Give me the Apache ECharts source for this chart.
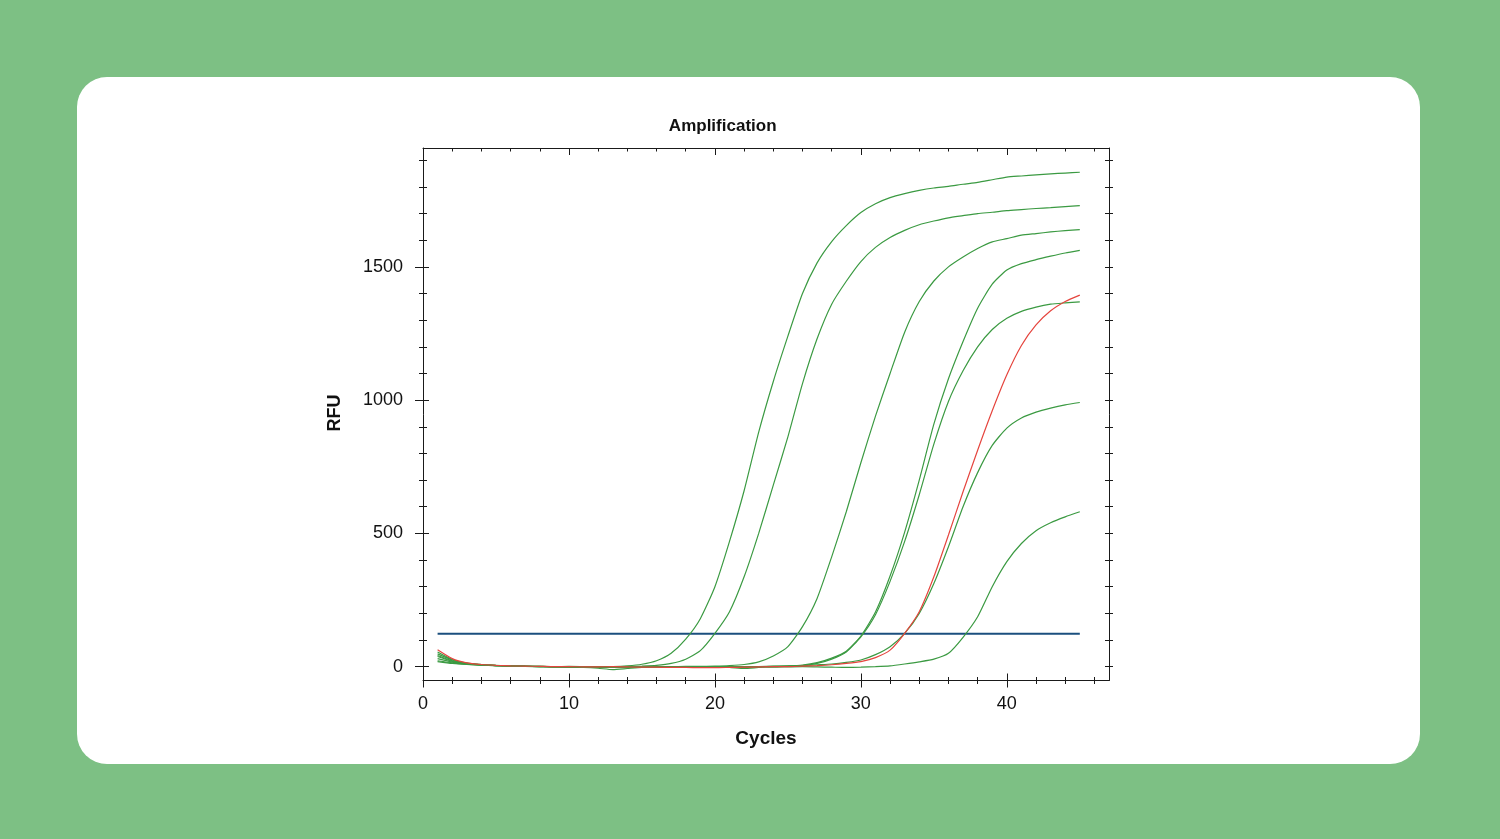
<!DOCTYPE html>
<html>
<head>
<meta charset="utf-8">
<script src="https://cdn.jsdelivr.net/npm/echarts@6/dist/echarts.min.js"></script>
<style>
  html, body { margin:0; padding:0; width:1500px; height:839px; overflow:hidden; background:#7dc084; }
  #card { position:absolute; left:77px; top:77px; width:1343px; height:687px; background:#fff; border-radius:30px; }
  #chart { position:absolute; left:0; top:0; width:1500px; height:839px; }
</style>
</head>
<body>
<div id="card"></div>
<div id="chart"></div>
<script>
// ---- data ----
const cycles = [1,2,3,4,5,6,7,8,9,10,11,12,13,14,15,16,17,18,19,20,21,22,23,24,25,26,27,28,29,30,31,32,33,34,35,36,37,38,39,40,41,42,43,44,45];

const wellA = [48,25,12,7,4,3,1,0,-1,-1,-2,-1,0,3,9,22,50,103,180,300,470,660,880,1070,1240,1400,1515,1595,1655,1704,1737,1760,1775,1787,1796,1802,1810,1817,1827,1837,1841,1845,1849,1852,1855];
const wellB = [30,17,10,6,4,2,2,1,0,-1,-1,-2,-1,0,2,5,12,28,60,125,206,337,500,681,862,1062,1230,1360,1446,1520,1573,1610,1637,1658,1672,1684,1692,1700,1705,1711,1715,1719,1722,1726,1730];
const wellC = [38,20,11,7,4,3,1,0,0,-1,-1,-2,-2,-1,-1,0,0,1,1,2,4,8,18,40,75,150,256,412,581,765,940,1100,1255,1370,1447,1500,1537,1569,1594,1606,1619,1625,1631,1636,1640];
const wellD = [22,14,9,6,4,3,1,0,-1,-1,0,-2,-3,-2,-1,0,-1,-1,0,-1,0,-2,0,2,3,6,15,32,58,115,205,340,505,700,910,1080,1220,1345,1435,1488,1512,1527,1540,1552,1562];
const wellE = [42,22,12,7,5,2,2,1,0,-1,-2,-1,-2,-1,0,-1,0,-2,-1,-2,-3,-7,-3,0,2,4,12,28,55,112,195,320,470,645,835,995,1110,1200,1265,1307,1333,1349,1360,1365,1369];
const wellG = [55,27,13,8,5,3,2,1,0,1,0,-1,-1,0,0,-1,-1,-2,-2,-1,0,-1,0,1,2,4,7,10,16,25,45,75,125,200,312,450,600,728,830,895,933,955,970,982,991];
const wellH = [19,12,8,6,4,2,1,0,-1,-2,-3,-6,-11,-7,-3,-2,-1,-1,0,-1,-1,0,-1,-2,-1,0,-1,-2,-3,-2,0,3,10,18,28,50,110,187,300,394,462,510,540,562,581];
const wellRed = [63,30,14,8,5,3,2,1,0,0,-1,-1,0,-1,-2,-2,-3,-3,-4,-4,-3,-2,-1,0,0,2,4,7,12,19,34,62,125,206,337,494,656,812,960,1095,1205,1282,1335,1370,1394];

const greenWells = [wellA, wellB, wellC, wellD, wellE, wellG, wellH];
const thresholdValue = 123;
const thresholdCycles = [1, 45];

const xTickLabels = [0,10,20,30,40];
const xMinorTicks = [2,4,6,8,12,14,16,18,22,24,26,28,32,34,36,38,42,44,46];
const yTickLabels = [0,500,1000,1500];
const yMinorTicks = [100,200,300,400,600,700,800,900,1100,1200,1300,1400,1600,1700,1800,1900];
const yAllTicks = [0,100,200,300,400,500,600,700,800,900,1000,1100,1200,1300,1400,1500,1600,1700,1800,1900];

// ---- layout / style ----
const X_MIN = 0, X_MAX = 47, Y_MIN = -52, Y_MAX = 1946;
const FONT = '"Liberation Sans", Arial, sans-serif';
const AX = '#1a1a1a';

function xAx(position, showLine, inside, len, ticks, labels) {
  return {
    type:'value', min:X_MIN, max:X_MAX, position: position,
    splitLine:{show:false},
    axisLine:{show:showLine, onZero:false, lineStyle:{color:AX, width:1}},
    axisTick:{show:true, inside:inside, length:len, customValues:ticks, lineStyle:{color:AX, width:1}},
    axisLabel: labels ? {show:true, customValues:labels, formatter:v => String(v), fontSize:18, color:'#111', fontFamily:FONT, margin:15} : {show:false}
  };
}
function yAx(position, showLine, inside, len, ticks, labels) {
  return {
    type:'value', min:Y_MIN, max:Y_MAX, position: position,
    splitLine:{show:false},
    axisLine:{show:showLine, onZero:false, lineStyle:{color:AX, width:1}},
    axisTick:{show:true, inside:inside, length:len, customValues:ticks, lineStyle:{color:AX, width:1}},
    axisLabel: labels ? {show:true, customValues:labels, formatter:v => String(v), fontSize:18, color:'#111', fontFamily:FONT, margin:20} : {show:false}
  };
}

const series = [];
series.push({
  type:'line', name:'Threshold', xAxisIndex:0, yAxisIndex:0,
  data: thresholdCycles.map(c => [c, thresholdValue]),
  showSymbol:false, silent:true,
  lineStyle:{color:'#1b4f7e', width:2}, z:2
});
greenWells.forEach((w, k) => {
  series.push({
    type:'line', name:'Well ' + (k+1), xAxisIndex:0, yAxisIndex:0,
    data: cycles.map((c, i) => [c, w[i]]),
    showSymbol:false, smooth:0.2,
    lineStyle:{color:'#3b9a42', width:1.2}, z:3
  });
});
series.push({
  type:'line', name:'Well red', xAxisIndex:0, yAxisIndex:0,
  data: cycles.map((c, i) => [c, wellRed[i]]),
  showSymbol:false, smooth:0.2,
  lineStyle:{color:'#e5453e', width:1.2}, z:4
});

const chart = echarts.init(document.getElementById('chart'), null, {renderer:'canvas'});
chart.setOption({
  animation:false,
  backgroundColor:'transparent',
  grid:{left:423, top:148, width:686, height:532.5, containLabel:false},
  xAxis:[
    xAx('bottom', true, false, 7, xTickLabels, xTickLabels),
    xAx('bottom', false, true, 7, xTickLabels, null),
    xAx('bottom', false, false, 3.5, xMinorTicks, null),
    xAx('bottom', false, true, 3.5, xMinorTicks, null),
    xAx('top', true, true, 7, xTickLabels, null),
    xAx('top', false, true, 3.5, xMinorTicks, null)
  ],
  yAxis:[
    yAx('left', true, false, 8, yTickLabels, yTickLabels),
    yAx('left', false, true, 6, yTickLabels, null),
    yAx('left', false, false, 4, yMinorTicks, null),
    yAx('left', false, true, 4, yMinorTicks, null),
    yAx('right', true, false, 4, yAllTicks, null),
    yAx('right', false, true, 4, yAllTicks, null)
  ],
  graphic:[
    {type:'text', x:722.7, y:126.5, style:{text:'Amplification', font:'bold 17px ' + FONT, fill:'#111', align:'center', verticalAlign:'middle'}},
    {type:'text', x:766, y:739, style:{text:'Cycles', font:'bold 19px ' + FONT, fill:'#111', align:'center', verticalAlign:'middle'}},
    {type:'text', x:335, y:413, rotation:Math.PI/2, style:{text:'RFU', font:'bold 18px ' + FONT, fill:'#111', align:'center', verticalAlign:'middle'}}
  ],
  series: series
});
</script>
</body>
</html>
